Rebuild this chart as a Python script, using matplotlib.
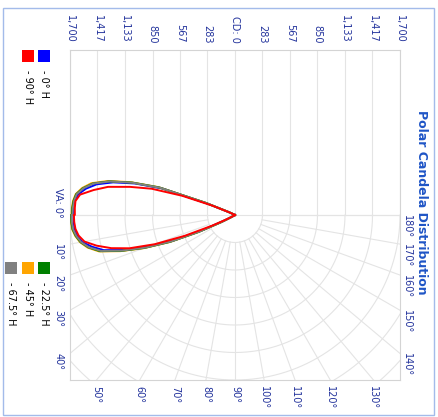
"""Polar candela distribution, drawn in the rotated (portrait-text) layout"""

import numpy as np
import matplotlib.pyplot as plt
from matplotlib.patches import Rectangle

# vertical angles (deg)
va = [0, 2.5, 5, 7.5, 10, 12.5, 15, 17.5, 20, 22.5, 25, 27.5, 30, 35, 40, 45, 50, 60, 70, 80, 90]

# candela, side A = upper half of the picture, side B = lower half
cd_0h_a = [1670, 1668, 1660, 1630, 1560, 1460, 1300, 1080, 800, 310, 70, 15, 5, 0, 0, 0, 0, 0, 0, 0, 0]
cd_0h_b = [1665, 1663, 1660, 1640, 1600, 1510, 1400, 1200, 950, 680, 370, 130, 30, 0, 0, 0, 0, 0, 0, 0, 0]
cd_22h_a = [1680, 1678, 1670, 1650, 1590, 1500, 1340, 1110, 830, 330, 80, 20, 5, 0, 0, 0, 0, 0, 0, 0, 0]
cd_22h_b = [1690, 1688, 1680, 1655, 1615, 1545, 1440, 1230, 990, 720, 410, 160, 45, 0, 0, 0, 0, 0, 0, 0, 0]
cd_45h_a = [1685, 1682, 1675, 1655, 1600, 1515, 1355, 1125, 840, 335, 80, 20, 5, 0, 0, 0, 0, 0, 0, 0, 0]
cd_45h_b = [1695, 1692, 1685, 1660, 1620, 1555, 1450, 1240, 1000, 730, 420, 165, 45, 0, 0, 0, 0, 0, 0, 0, 0]
cd_67h_a = [1675, 1672, 1665, 1645, 1585, 1495, 1335, 1105, 820, 320, 75, 18, 5, 0, 0, 0, 0, 0, 0, 0, 0]
cd_67h_b = [1685, 1683, 1675, 1650, 1610, 1540, 1430, 1220, 980, 710, 400, 150, 40, 0, 0, 0, 0, 0, 0, 0, 0]
cd_90h_a = [1650, 1652, 1650, 1610, 1480, 1340, 1120, 900, 580, 250, 60, 15, 5, 0, 0, 0, 0, 0, 0, 0, 0]
cd_90h_b = [1660, 1658, 1650, 1625, 1575, 1460, 1320, 1140, 880, 560, 260, 90, 25, 0, 0, 0, 0, 0, 0, 0, 0]

cd_max = 1700
cd_tick_labels = ['1,700', '1,417', '1,133', '850', '567', '283', 'CD: 0',
                  '283', '567', '850', '1,133', '1,417', '1,700']
angle_ticks = list(range(0, 190, 10))

series = [
    ('- 0° H', 'blue', cd_0h_a, cd_0h_b),
    ('- 45° H', 'orange', cd_45h_a, cd_45h_b),
    ('- 22.5° H', 'green', cd_22h_a, cd_22h_b),
    ('- 67.5° H', 'gray', cd_67h_a, cd_67h_b),
    ('- 90° H', 'red', cd_90h_a, cd_90h_b),
]

W, H = 438, 417
navy = '#23339c'
grid = '#e4e4e4'

fig = plt.figure(figsize=(W / 100, H / 100), dpi=100)
fig.patch.set_facecolor('white')
ax = fig.add_axes([70 / W, 1 - 380 / H, 330 / W, 330 / H])
ax.set_xlim(-cd_max, cd_max)
ax.set_ylim(-cd_max, cd_max)

# candela ticks on top, rotated
ticks = np.linspace(-cd_max, cd_max, 13)
ax.xaxis.tick_top()
ax.set_xticks(ticks)
ax.set_xticklabels(cd_tick_labels, rotation=270, fontsize=7, color=navy)
ax.tick_params(axis='x', length=0, pad=5)
ax.set_yticks([])
for sp in ax.spines.values():
    sp.set_color('#d4d4d4')
    sp.set_linewidth(0.8)

# upper half: straight candela grid
for x in ticks:
    ax.plot([x, x], [0, cd_max], color=grid, lw=0.8, zorder=1)
ax.plot([-cd_max, cd_max], [0, 0], color=grid, lw=0.8, zorder=1)

# lower half: polar grid
t = np.radians(np.linspace(0, 180, 361))
step = cd_max / 6
for k in range(1, 9):
    r = k * step
    ax.plot(-r * np.cos(t), -r * np.sin(t), color=grid, lw=0.8, zorder=1)
for a in angle_ticks:
    ar = np.radians(a)
    rr = np.array([step, 3 * cd_max])
    ax.plot(-rr * np.cos(ar), -rr * np.sin(ar), color=grid, lw=0.8, zorder=1)

# angle labels where each ray leaves the square
for a in angle_ticks:
    ar = np.radians(a)
    c, s = np.cos(ar), np.sin(ar)
    scale = cd_max / max(abs(c), abs(s))
    px, py = -c * scale, -s * scale
    if a == 0:
        txt, off, vert = 'VA: 0°', (-8.5, -2), 'bottom'
    elif a < 45:
        txt, off, vert = f'{a}°', (-8.5, 0), 'top'
    elif a > 135:
        txt, off, vert = f'{a}°', (5, 0), 'top'
    else:
        txt, off, vert = f'{a}°', (0, -4), 'top'
    ax.annotate(txt, (px, py), xytext=off, textcoords='offset points',
                rotation=270, ha='center', va=vert, fontsize=7, color=navy,
                annotation_clip=False)

# lobes
th = np.radians(va)
for label, color, side_a, side_b in series:
    a_arr = np.array(side_a)
    b_arr = np.array(side_b)
    xs = np.concatenate([(-a_arr * np.cos(th))[::-1], -b_arr * np.cos(th)])
    ys = np.concatenate([(a_arr * np.sin(th))[::-1], -b_arr * np.sin(th)])
    ax.plot(xs, ys, color=color, lw=1.4, zorder=3, solid_joinstyle='round')

# title
fig.text(422 / W, 1 - 110 / H, 'Polar Candela Distribution', rotation=270,
         ha='center', va='top', fontsize=9, fontweight='bold', color='#1f55c6')

# legend: squares + rotated labels
legend_items = [
    ('- 90° H', 'red', 22, 50),
    ('- 0° H', 'blue', 38, 50),
    ('- 67.5° H', 'gray', 5, 262),
    ('- 45° H', 'orange', 22, 262),
    ('- 22.5° H', 'green', 38, 262),
]
for label, color, x0, y0 in legend_items:
    fig.add_artist(Rectangle((x0 / W, 1 - (y0 + 12) / H), 12 / W, 12 / H,
                             transform=fig.transFigure, facecolor=color,
                             edgecolor='none'))
    fig.text((x0 + 6) / W, 1 - (y0 + 20) / H, label, rotation=270,
             ha='center', va='top', fontsize=7, color='black')

# outer frame
fig.add_artist(Rectangle((3 / W, 2 / H), 431 / W, 407 / H, transform=fig.transFigure,
                         fill=False, edgecolor='#a3bbea', lw=1.0))

plt.savefig('out.png', dpi=100, facecolor='white')
